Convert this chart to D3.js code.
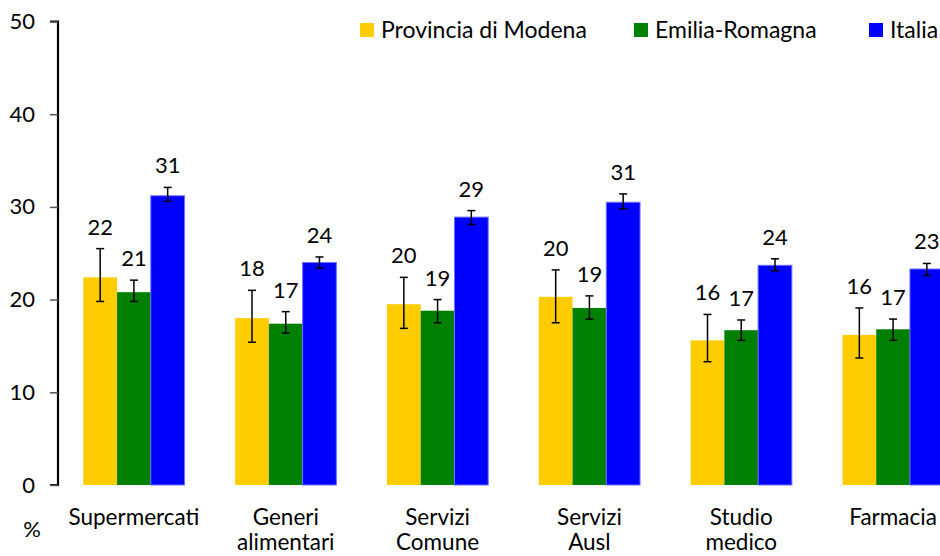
<!DOCTYPE html>
<html><head><meta charset="utf-8">
<script src="https://cdn.jsdelivr.net/npm/d3@7"></script>
<style>
html,body{margin:0;padding:0;background:#fff;}
svg text{font-family:Lato,"Open Sans",sans-serif;fill:#000;}
</style></head>
<body><svg id="c" width="940" height="556"></svg>
<script>
const categories = ["Supermercati", "Generi\nalimentari", "Servizi\nComune", "Servizi\nAusl", "Studio\nmedico", "Farmacia"];
const seriesNames = ["Provincia di Modena", "Emilia-Romagna", "Italia"];
const modena = [22.4, 18.0, 19.5, 20.3, 15.6, 16.2];
const modenaLo = [19.8, 15.4, 16.9, 17.5, 13.3, 13.7];
const modenaHi = [25.5, 21.0, 22.4, 23.2, 18.4, 19.1];
const emilia = [20.8, 17.4, 18.8, 19.1, 16.7, 16.8];
const emiliaLo = [19.8, 16.4, 17.5, 17.9, 15.6, 15.6];
const emiliaHi = [22.1, 18.7, 20.0, 20.4, 17.8, 17.9];
const italia = [31.2, 24.0, 28.9, 30.5, 23.7, 23.3];
const italiaLo = [30.6, 23.4, 28.1, 29.8, 23.1, 22.6];
const italiaHi = [32.1, 24.6, 29.6, 31.4, 24.4, 23.9];
const yTicks = [0, 10, 20, 30, 40, 50];
const colors = ["#FFCC00", "#008000", "#0000FF"];

const seriesData = [
  {name: seriesNames[0], v: modena, lo: modenaLo, hi: modenaHi},
  {name: seriesNames[1], v: emilia, lo: emiliaLo, hi: emiliaHi},
  {name: seriesNames[2], v: italia, lo: italiaLo, hi: italiaHi}
];

const svg = d3.select("#c");
const x0 = d3.scaleBand().domain(categories).range([58, 969]).padding(0);
const bw = x0.bandwidth();
const x1 = d3.scaleBand().domain(seriesNames).range([bw/6, bw*5/6]).padding(0);
const y = d3.scaleLinear().domain([0, 50]).range([485, 21.5]);

// y axis
const yAxis = d3.axisLeft(y).tickValues(yTicks).tickSize(8).tickPadding(15);
const ga = svg.append("g").attr("transform", "translate(58,0)").call(yAxis);
ga.select(".domain").attr("stroke", "#000").attr("stroke-width", 2.2).attr("d", `M-8,${y(50)}H0V${y(0)}H-8`);
ga.selectAll(".tick line").attr("stroke", "#555").attr("stroke-width", 1.5);
ga.selectAll(".tick text").style("font-size", "22px").style("font-family", "Lato").attr("fill", "#000");

// bars
const flat = [];
categories.forEach((c, i) => seriesData.forEach((s, j) => flat.push({c, i, j, s: s.name, v: s.v[i], lo: s.lo[i], hi: s.hi[i]})));

svg.append("g").selectAll("rect").data(flat).join("rect")
  .attr("x", d => x0(d.c) + x1(d.s))
  .attr("width", x1.bandwidth())
  .attr("y", d => y(d.v))
  .attr("height", d => y(0) - y(d.v))
  .attr("fill", d => colors[d.j])
  .attr("stroke", d => d.j === 2 ? "#6f6fff" : "none")
  .attr("stroke-width", d => d.j === 2 ? 1 : 0);

// error bars
const eb = svg.append("g").attr("stroke", "#000").attr("stroke-width", 1.5);
flat.forEach(d => {
  const cx = x0(d.c) + x1(d.s) + x1.bandwidth()/2;
  eb.append("line").attr("x1", cx).attr("x2", cx).attr("y1", y(d.hi)).attr("y2", y(d.lo));
  eb.append("line").attr("x1", cx-4).attr("x2", cx+4).attr("y1", y(d.hi)).attr("y2", y(d.hi));
  eb.append("line").attr("x1", cx-4).attr("x2", cx+4).attr("y1", y(d.lo)).attr("y2", y(d.lo));
});

// value labels
svg.append("g").selectAll("text").data(flat).join("text")
  .attr("x", d => x0(d.c) + x1(d.s) + x1.bandwidth()/2)
  .attr("y", d => y(d.hi) - 14)
  .attr("text-anchor", "middle")
  .style("font-size", "22px")
  .text(d => Math.round(d.v));

// category labels
const cl = svg.append("g").selectAll("text").data(categories).join("text")
  .attr("x", d => x0(d) + bw/2)
  .attr("y", 525)
  .attr("text-anchor", "middle")
  .style("font-size", "22.5px");
cl.each(function(d) {
  const lines = d.split("\n");
  d3.select(this).selectAll("tspan").data(lines).join("tspan")
    .attr("x", x0(d) + bw/2)
    .attr("dy", (l, k) => k === 0 ? 0 : 25)
    .text(l => l);
});

svg.append("text").attr("x", 32).attr("y", 537).attr("text-anchor", "middle").style("font-size", "22px").text("%");

// legend
const legX = [360, 634, 869];
const lg = svg.append("g");
seriesNames.forEach((n, j) => {
  lg.append("rect").attr("x", legX[j]).attr("y", 23).attr("width", 14).attr("height", 14).attr("fill", colors[j]);
  lg.append("text").attr("x", legX[j] + 21).attr("y", 38).style("font-size", "23px").text(n);
});
</script></body></html>
